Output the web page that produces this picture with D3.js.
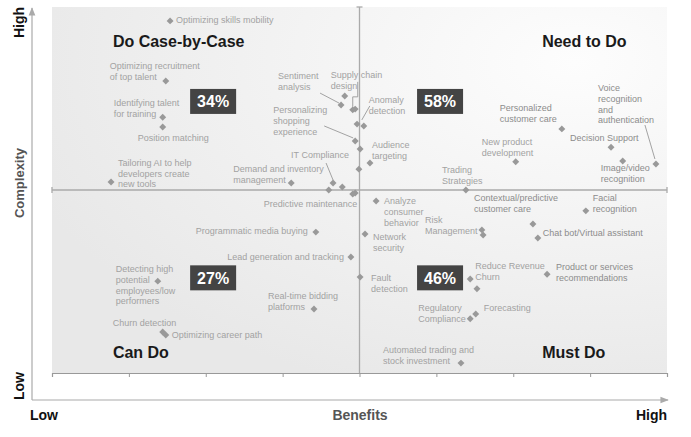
<!DOCTYPE html>
<html>
<head>
<meta charset="utf-8">
<script src="https://cdn.jsdelivr.net/npm/d3@7"></script>
<style>
  html, body { margin: 0; padding: 0; background: #fff; }
  svg { display: block; font-family: "Liberation Sans", Arial, sans-serif; }
</style>
</head>
<body>
<svg id="chart" width="691" height="437"></svg>
<script>
// Use cases (benefit / complexity on a 0–100 scale)
const useCases = [
  "Optimizing skills mobility", "Optimizing recruitment\nof top talent", "Identifying talent\nfor training",
  "Position matching", "Tailoring AI to help\ndevelopers create\nnew tools", "Demand and inventory\nmanagement",
  "IT Compliance", "Sentiment\nanalysis", "Supply chain\ndesign", "Anomaly\ndetection",
  "Personalizing\nshopping\nexperience", "Audience\ntargeting", "Predictive maintenance",
  "", "", "", "", "", "", "", "",
  "Programmatic media buying", "Lead generation and tracking",
  "Detecting high\npotential\nemployees/low\nperformers", "Real-time bidding\nplatforms",
  "Churn detection", "Optimizing career path",
  "Analyze\nconsumer\nbehavior", "Network\nsecurity", "Fault\ndetection", "Risk\nManagement", "",
  "Contextual/predictive\ncustomer care", "Chat bot/Virtual assistant", "Facial\nrecognition",
  "Product or services\nrecommendations", "Reduce Revenue\nChurn", "", "Forecasting",
  "Regulatory\nCompliance", "Automated trading and\nstock investment",
  "Trading\nStrategies", "New product\ndevelopment", "Personalized\ncustomer care",
  "Decision Support", "Image/video\nrecognition", "Voice\nrecognition\nand\nauthentication"
];
const benefit = [
  19.2, 18.5, 18.0, 18.0, 9.6, 38.9, 45.7, 47.0, 48.9, 50.7, 49.3, 51.7, 49.3,
  47.6, 49.3, 49.6, 50.1, 49.9, 47.2, 45.0, 48.9,
  42.9, 48.6, 17.2, 42.6, 18.0, 18.5,
  52.7, 50.9, 50.1, 69.9, 70.1, 78.2, 79.0, 86.8, 80.5, 68.0, 69.1, 68.9, 68.0, 66.5,
  67.3, 75.4, 82.9, 90.9, 92.8, 98.2
];
const complexity = [
  96.2, 79.8, 69.9, 67.2, 52.2, 51.9, 51.9, 73.2, 71.9, 67.5, 63.4, 57.4, 49.2,
  75.7, 72.1, 68.0, 61.2, 55.7, 50.8, 50.0, 48.9,
  38.5, 31.7, 25.1, 17.5, 11.2, 10.4,
  47.0, 38.0, 26.2, 39.1, 37.7, 40.7, 36.9, 44.3, 27.0, 25.7, 23.0, 16.1, 14.8, 2.7,
  50.0, 57.7, 66.7, 61.7, 57.9, 57.1
];

// Label placement next to each point: [dx, dy, anchor] in pixels
const labelPlace = [
  [6, -1], [-56, -15], [-49, -14], [-25, 11], [7, -19], [-58, -14], [-42, -28], [-63, -29],
  [-22, -35], [5, -26], [-82, -31], [2, -18], [2, 11, "end"],
  null, null, null, null, null, null, null, null,
  [-8, -1, "end"], [-7, 0, "end"], [-42, -12], [-46, -13], [-50, -9], [6, 0],
  [8, 0], [8, 3], [11, 1], [-57, -10], null, [-59, -26], [5, -5], [7, -13], [9, -7],
  [5, -13], null, [8, -6], [-52, -11], [-78, -13],
  [-24, -20], [-34, -20], [-62, -21], [-41, -9], [-22, 7], [-58, -76]
];
// Leader lines: point index and path offsets from the point
const leaders = [
  [6, [[-7, -20], [0, -3]]],
  [7, [[-21, -12], [-2, -2]]],
  [8, [[5, -28], [5, -13], [0, -13], [0, -3]]],
  [9, [[6, -20], [-2, -6]]],
  [10, [[-31, -15], [-2, -3]]],
  [46, [[-11, -39], [-1, -5]]]
];

const quadrants = ["Do Case-by-Case", "Need to Do", "Can Do", "Must Do"];
const quadX = [9.9, 79.7, 9.9, 79.7];
const quadY = [89.1, 89.1, 4.1, 4.1];
const shares = ["34%", "58%", "27%", "46%"];
const shareX = [26.2, 63.1, 26.2, 63.1];
const shareY = [74.2, 74.2, 26.0, 26.0];

const svg = d3.select("#chart");
const x = d3.scaleLinear().domain([0, 100]).range([52, 667]);
const y = d3.scaleLinear().domain([0, 100]).range([373, 7]);

// Background with soft gradient
const defs = svg.append("defs");
const grad = defs.append("radialGradient").attr("id", "bg")
  .attr("cx", "85%").attr("cy", "15%").attr("r", "95%");
grad.append("stop").attr("offset", "0%").attr("stop-color", "#fdfdfd");
grad.append("stop").attr("offset", "100%").attr("stop-color", "#e8e8e8");
defs.append("marker").attr("id", "arrow").attr("viewBox", "0 0 10 10")
  .attr("refX", 9).attr("refY", 5).attr("markerWidth", 7).attr("markerHeight", 7)
  .attr("orient", "auto")
  .append("path").attr("d", "M0,1L10,5L0,9Z").attr("fill", "#aaa");

svg.append("rect")
  .attr("x", x(0)).attr("y", y(100))
  .attr("width", x(100) - x(0)).attr("height", y(0) - y(100))
  .attr("fill", "url(#bg)");

// Bottom ticks
const axis = svg.append("g").attr("transform", `translate(0,${y(0)})`)
  .call(d3.axisBottom(x).tickValues(d3.range(0, 101, 12.5)).tickSize(4).tickFormat(""));
axis.select(".domain").attr("stroke", "#999").attr("stroke-width", 1.2);
axis.selectAll(".tick line").attr("stroke", "#999");

// Quadrant dividers
const mid = svg.append("g").attr("stroke", "#aaa").attr("stroke-width", 1.3);
mid.append("line").attr("x1", x(0)).attr("x2", x(100)).attr("y1", y(50)).attr("y2", y(50));
mid.append("line").attr("x1", x(50)).attr("x2", x(50)).attr("y1", y(100)).attr("y2", y(0));
mid.append("line").attr("x1", x(0)).attr("x2", x(0)).attr("y1", y(50) - 3).attr("y2", y(50) + 3);
mid.append("line").attr("x1", x(100)).attr("x2", x(100)).attr("y1", y(50) - 3).attr("y2", y(50) + 3);
mid.append("line").attr("x1", x(50) - 3).attr("x2", x(50) + 3).attr("y1", y(100)).attr("y2", y(100));

// Outer arrows
svg.append("line").attr("x1", 32).attr("y1", 400).attr("x2", 32).attr("y2", 8)
  .attr("stroke", "#aaa").attr("stroke-width", 1.2).attr("marker-end", "url(#arrow)");
svg.append("line").attr("x1", 32).attr("y1", 400).attr("x2", 668).attr("y2", 400)
  .attr("stroke", "#aaa").attr("stroke-width", 1.2).attr("marker-end", "url(#arrow)");

// Axis words
const axisText = svg.append("g").attr("font-weight", "bold").attr("font-size", 14);
axisText.append("text").attr("x", 30).attr("y", 420).attr("fill", "#111").text("Low");
axisText.append("text").attr("x", 360).attr("y", 420).attr("text-anchor", "middle")
  .attr("fill", "#555").text("Benefits");
axisText.append("text").attr("x", 667).attr("y", 420).attr("text-anchor", "end")
  .attr("fill", "#111").text("High");
axisText.append("text").attr("transform", "translate(24,7) rotate(-90)")
  .attr("text-anchor", "end").attr("fill", "#111").text("High");
axisText.append("text").attr("transform", "translate(24,183) rotate(-90)")
  .attr("text-anchor", "middle").attr("fill", "#555").attr("font-size", 13).text("Complexity");
axisText.append("text").attr("transform", "translate(24,400) rotate(-90)")
  .attr("fill", "#111").text("Low");

// Leader lines
svg.append("g").selectAll("path").data(leaders).join("path")
  .attr("d", ([i, pts]) => d3.line()(pts.map(([dx, dy]) => [x(benefit[i]) + dx, y(complexity[i]) + dy])))
  .attr("fill", "none").attr("stroke", "#999").attr("stroke-width", 0.9);

// Points
const pts = d3.range(useCases.length);
svg.append("g").selectAll("path").data(pts).join("path")
  .attr("transform", (i) => `translate(${x(benefit[i])},${y(complexity[i])}) rotate(45)`)
  .attr("d", d3.symbol(d3.symbolSquare, 24))
  .attr("fill", "#999");

// Point labels (far-right ones print a touch darker)
const labels = svg.append("g").attr("font-size", 9)
  .selectAll("text").data(pts.filter((i) => useCases[i]))
  .join("text")
  .attr("fill", (i) => (benefit[i] > 78 ? "#8c8c8c" : "#a2a2a2"))
  .attr("text-anchor", (i) => labelPlace[i][2] || "start")
  .attr("transform", (i) => `translate(${x(benefit[i]) + labelPlace[i][0]},${y(complexity[i]) + labelPlace[i][1]})`);
labels.selectAll("tspan").data((i) => useCases[i].split("\n")).join("tspan")
  .attr("x", 0).attr("y", (d, k) => k * 10.7).attr("dy", "0.35em").text((d) => d);

// Quadrant titles
svg.append("g").attr("font-size", 16).attr("font-weight", "bold").attr("fill", "#1a1a1a")
  .selectAll("text").data(quadrants).join("text")
  .attr("x", (d, i) => x(quadX[i])).attr("y", (d, i) => y(quadY[i])).text((d) => d);

// Share boxes
const box = svg.append("g").selectAll("g").data(shares).join("g")
  .attr("transform", (d, i) => `translate(${x(shareX[i])},${y(shareY[i])})`);
box.append("rect").attr("x", -23).attr("y", -12.5).attr("width", 46).attr("height", 25).attr("fill", "#444");
box.append("text").attr("text-anchor", "middle").attr("dy", "0.36em")
  .attr("font-size", 16).attr("font-weight", "bold").attr("fill", "#fff").text((d) => d);
</script>
</body>
</html>
